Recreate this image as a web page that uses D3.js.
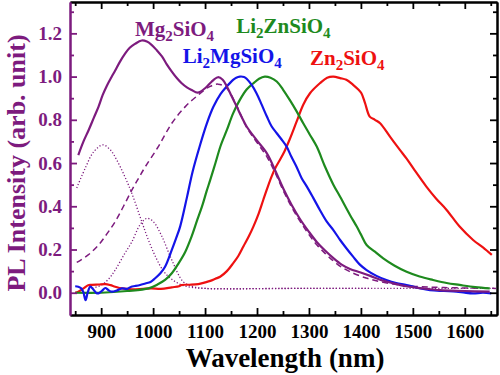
<!DOCTYPE html>
<html>
<head>
<meta charset="utf-8">
<script src="https://cdn.jsdelivr.net/npm/d3@7"></script>
<style>
  body { margin: 0; background: #fff; }
  svg { display: block; }
</style>
</head>
<body>
<div id="chart"></div>
<script>
const width = 500;
const height = 375;

// dados: [comprimento de onda (nm), intensidade]
const mgTotal = [[856,0.637],[866,0.70],[876,0.753],[886,0.81],[895,0.861],[903,0.915],[911,0.958],[920,0.998],[927,1.028],[936,1.068],[946,1.106],[955,1.133],[965,1.151],[978,1.167],[988,1.162],[997,1.147],[1007,1.122],[1017,1.093],[1026,1.058],[1036,1.023],[1046,0.992],[1055,0.969],[1065,0.95],[1074,0.938],[1086,0.926],[1100,0.946],[1112,0.975],[1125,0.997],[1134,0.985],[1142,0.954],[1151,0.91],[1161,0.861],[1170,0.815],[1180,0.769],[1199,0.707],[1219,0.645],[1235,0.566],[1251,0.48],[1267,0.405],[1283,0.34],[1299,0.285],[1315,0.235],[1331,0.195],[1347,0.16],[1363,0.13],[1379,0.11],[1398,0.095],[1418,0.078],[1437,0.06],[1460,0.045],[1488,0.03],[1520,0.02],[1552,0.012],[1600,0.008],[1648,0.005]];
const mgBand3 = [[853,0.14],[875,0.175],[895,0.221],[911,0.272],[927,0.329],[943,0.4],[959,0.475],[972,0.53],[985,0.583],[1010,0.676],[1036,0.784],[1062,0.861],[1087,0.915],[1110,0.955],[1125,0.965],[1140,0.95],[1160,0.87],[1180,0.765],[1200,0.695],[1220,0.625],[1235,0.555],[1251,0.47],[1267,0.395],[1283,0.33],[1299,0.272],[1315,0.222],[1331,0.182],[1347,0.147],[1363,0.118],[1379,0.097],[1410,0.068],[1450,0.045],[1500,0.03],[1560,0.024],[1660,0.02]];
const mgBand1 = [[853,0.485],[870,0.58],[885,0.65],[903,0.684],[918,0.66],[930,0.614],[945,0.54],[959,0.46],[978,0.33],[990,0.25],[1004,0.17],[1020,0.1],[1036,0.062],[1055,0.036],[1074,0.025],[1100,0.02],[1300,0.02],[1500,0.02],[1660,0.02]];
const mgBand2 = [[880,0.02],[900,0.035],[915,0.065],[927,0.105],[945,0.18],[959,0.235],[975,0.315],[988,0.344],[1000,0.33],[1017,0.26],[1036,0.151],[1058,0.051],[1077,0.028],[1100,0.02],[1250,0.02],[1415,0.02]];
const li2mg = [[850,0.03],[856,0.028],[862,0.02],[866,0.0],[870,-0.034],[874,0.0],[879,0.028],[885,0.015],[890,0.0],[895,-0.003],[902,0.01],[908,0.022],[914,0.012],[920,0.005],[930,0.01],[940,0.02],[950,0.018],[958,0.028],[965,0.031],[975,0.036],[985,0.043],[995,0.05],[1004,0.067],[1014,0.09],[1023,0.12],[1036,0.198],[1044,0.25],[1052,0.306],[1065,0.44],[1076,0.56],[1090,0.68],[1103,0.78],[1116,0.86],[1130,0.92],[1142,0.955],[1154,0.985],[1160,0.995],[1167,1.0],[1175,0.998],[1180,0.99],[1190,0.96],[1199,0.923],[1209,0.87],[1219,0.815],[1228,0.77],[1238,0.738],[1247,0.71],[1257,0.676],[1266,0.63],[1276,0.583],[1286,0.53],[1296,0.491],[1308,0.44],[1321,0.383],[1334,0.33],[1347,0.29],[1360,0.244],[1372,0.206],[1385,0.167],[1398,0.13],[1411,0.105],[1430,0.078],[1449,0.059],[1468,0.045],[1488,0.036],[1510,0.022],[1533,0.012],[1560,0.008],[1584,0.005],[1600,0.0],[1616,-0.003],[1635,0.0],[1651,-0.003]];
const li2zn = [[850,0.0],[900,0.0],[950,0.008],[991,0.02],[1010,0.04],[1023,0.059],[1036,0.09],[1049,0.136],[1062,0.19],[1074,0.26],[1084,0.33],[1094,0.398],[1103,0.47],[1110,0.522],[1120,0.6],[1130,0.68],[1142,0.753],[1154,0.83],[1167,0.892],[1180,0.94],[1193,0.969],[1204,0.99],[1215,1.0],[1226,0.995],[1238,0.977],[1250,0.94],[1263,0.892],[1276,0.84],[1289,0.784],[1302,0.73],[1315,0.676],[1331,0.583],[1347,0.5],[1360,0.444],[1379,0.36],[1392,0.306],[1400,0.27],[1411,0.221],[1427,0.19],[1443,0.159],[1465,0.125],[1488,0.097],[1513,0.075],[1539,0.059],[1565,0.045],[1590,0.036],[1620,0.026],[1648,0.02]];
const zn2 = [[850,0.0],[856,0.005],[866,0.02],[875,0.035],[882,0.036],[895,0.038],[908,0.04],[918,0.035],[927,0.028],[940,0.02],[959,0.016],[980,0.018],[997,0.02],[1015,0.018],[1036,0.025],[1050,0.03],[1055,0.036],[1070,0.037],[1087,0.04],[1100,0.048],[1110,0.055],[1120,0.065],[1129,0.074],[1142,0.1],[1154,0.136],[1164,0.17],[1174,0.215],[1184,0.26],[1193,0.306],[1203,0.365],[1212,0.429],[1220,0.485],[1228,0.537],[1236,0.58],[1244,0.614],[1253,0.655],[1263,0.71],[1276,0.79],[1289,0.87],[1302,0.923],[1321,0.969],[1335,0.995],[1347,1.0],[1360,0.993],[1372,0.985],[1385,0.962],[1395,0.94],[1401,0.923],[1408,0.877],[1417,0.815],[1427,0.8],[1437,0.784],[1456,0.722],[1475,0.661],[1488,0.62],[1501,0.575],[1526,0.491],[1545,0.435],[1565,0.383],[1590,0.306],[1616,0.244],[1635,0.21],[1652,0.175]];

const xMajor = [900, 1000, 1100, 1200, 1300, 1400, 1500, 1600];
const xMinor = [850, 950, 1050, 1150, 1250, 1350, 1450, 1550, 1650];
const yMajor = [0.0, 0.2, 0.4, 0.6, 0.8, 1.0, 1.2];
const yMinor = [0.1, 0.3, 0.5, 0.7, 0.9, 1.1, 1.3];

// rótulos das amostras: [parte principal, subscrito, ...] ancorados em coordenadas dos dados
const labels = [
  { parts: ["Mg", "2", "SiO", "4"], at: [965, 1.19], color: "#7d1b7e" },
  { parts: ["Li", "2", "MgSiO", "4"], at: [1057, 1.063], color: "#1414e8" },
  { parts: ["Li", "2", "ZnSiO", "4"], at: [1160, 1.2], color: "#1e8a1e" },
  { parts: ["Zn", "2", "SiO", "4"], at: [1302, 1.055], color: "#ee1111" }
];

const purple = "#7d1b7e";
const font = "'Liberation Serif', 'Times New Roman', serif";

const svg = d3.select("#chart").append("svg")
  .attr("width", width)
  .attr("height", height)
  .style("font-family", font);

const x = d3.scaleLinear().domain([840, 1662]).range([70, 497]);
const y = d3.scaleLinear().domain([-0.103, 1.345]).range([315, 2]);

svg.append("clipPath").attr("id", "clip")
  .append("rect").attr("x", 70).attr("y", 2).attr("width", 427).attr("height", 313);

const line = d3.line()
  .x(d => x(d[0]))
  .y(d => y(d[1]))
  .curve(d3.curveCatmullRom);

const plot = svg.append("g").attr("clip-path", "url(#clip)");

// componentes do ajuste Mg2SiO4
plot.append("path").datum(mgBand1).attr("d", line)
  .attr("fill", "none").attr("stroke", purple).attr("stroke-width", 1.3)
  .attr("stroke-dasharray", "1.2,2");
plot.append("path").datum(mgBand2).attr("d", line)
  .attr("fill", "none").attr("stroke", purple).attr("stroke-width", 1.3)
  .attr("stroke-dasharray", "1.2,2").attr("stroke-dashoffset", 1.6);
plot.append("path").datum(mgBand3).attr("d", line)
  .attr("fill", "none").attr("stroke", purple).attr("stroke-width", 1.5)
  .attr("stroke-dasharray", "6,4");

const series = [
  { data: zn2, color: "#ee1111" },
  { data: li2zn, color: "#1e8a1e" },
  { data: li2mg, color: "#1414e8" },
  { data: mgTotal, color: purple }
];

series.forEach(s => {
  plot.append("path").datum(s.data).attr("d", line)
    .attr("fill", "none")
    .attr("stroke", s.color)
    .attr("stroke-width", 2.2)
    .attr("stroke-linejoin", "round");
});

// eixos
function styleAxis(g, color) {
  g.select(".domain").attr("stroke", color).attr("stroke-width", 2);
  g.selectAll(".tick line").attr("stroke", color).attr("stroke-width", 1.8);
}

const gx = svg.append("g").attr("transform", "translate(0,315)")
  .call(d3.axisBottom(x).tickValues(xMajor).tickSize(-7).tickPadding(10)
    .tickFormat(d3.format("d")).tickSizeOuter(0));
styleAxis(gx, "#000");
gx.selectAll(".tick text").attr("fill", "#000").attr("font-size", 19).attr("font-weight", "bold")
  .attr("font-family", font);

const gxm = svg.append("g").attr("transform", "translate(0,315)")
  .call(d3.axisBottom(x).tickValues(xMinor).tickSize(-4).tickFormat("").tickSizeOuter(0));
styleAxis(gxm, "#000");

const gt = svg.append("g").attr("transform", "translate(0,2)")
  .call(d3.axisTop(x).tickValues(xMajor).tickSize(-7).tickFormat("").tickSizeOuter(0));
styleAxis(gt, "#000");
const gtm = svg.append("g").attr("transform", "translate(0,2)")
  .call(d3.axisTop(x).tickValues(xMinor).tickSize(-4).tickFormat("").tickSizeOuter(0));
styleAxis(gtm, "#000");

const gr = svg.append("g").attr("transform", "translate(497,0)")
  .call(d3.axisRight(y).tickValues(yMajor).tickSize(-7).tickFormat("").tickSizeOuter(0));
styleAxis(gr, "#000");
const grm = svg.append("g").attr("transform", "translate(497,0)")
  .call(d3.axisRight(y).tickValues(yMinor).tickSize(-4).tickFormat("").tickSizeOuter(0));
styleAxis(grm, "#000");

const gy = svg.append("g").attr("transform", "translate(70,0)")
  .call(d3.axisLeft(y).tickValues(yMajor).tickSize(-7).tickPadding(8)
    .tickFormat(d3.format(".1f")).tickSizeOuter(0));
styleAxis(gy, purple);
gy.selectAll(".tick text").attr("fill", purple).attr("font-size", 19).attr("font-weight", "bold")
  .attr("font-family", font);
const gym = svg.append("g").attr("transform", "translate(70,0)")
  .call(d3.axisLeft(y).tickValues(yMinor).tickSize(-4).tickFormat("").tickSizeOuter(0));
styleAxis(gym, purple);

// títulos
svg.append("text")
  .attr("x", 285).attr("y", 367)
  .attr("text-anchor", "middle")
  .attr("font-size", 27).attr("font-weight", "bold")
  .text("Wavelength (nm)");

svg.append("text")
  .attr("transform", "translate(25,163) rotate(-90)")
  .attr("text-anchor", "middle")
  .attr("font-size", 26).attr("font-weight", "bold")
  .attr("fill", purple)
  .text("PL Intensity (arb. unit)");

// rótulos com subscrito
labels.forEach(l => {
  const t = svg.append("text")
    .attr("x", x(l.at[0])).attr("y", y(l.at[1]))
    .attr("fill", l.color)
    .attr("font-size", 21).attr("font-weight", "bold");
  l.parts.forEach((p, i) => {
    const sub = i % 2 === 1;
    t.append("tspan")
      .attr("font-size", sub ? 15 : 21)
      .attr("dy", i === 0 ? 0 : (sub ? 5 : -5))
      .text(p);
  });
});
</script>
</body>
</html>
